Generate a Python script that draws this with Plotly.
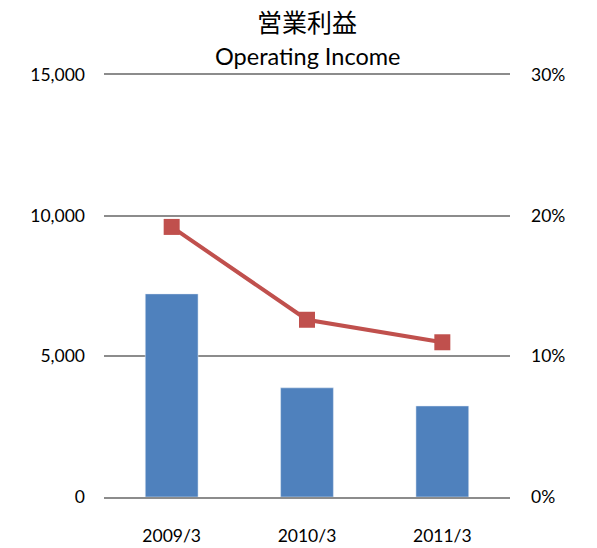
import plotly.graph_objects as go

years = ['2009/3', '2010/3', '2011/3']
income = [7220, 3880, 3235]
margin_pct = [19.2, 12.6, 11.0]
left_ticks = [0, 5000, 10000, 15000]
right_ticks = [0, 10, 20, 30]

fig = go.Figure()
fig.add_trace(go.Bar(x=years, y=income, marker_color='#4F81BD', showlegend=False))
fig.add_trace(go.Scatter(x=years, y=margin_pct, yaxis='y2', mode='lines+markers',
                         line=dict(color='#C0504D', width=4),
                         marker=dict(symbol='square', size=16, color='#C0504D'),
                         cliponaxis=False, showlegend=False))

fnt = dict(family='Lato, Open Sans, sans-serif', size=17.5, color='#000000')
fig.update_layout(
    width=597, height=548,
    margin=dict(l=104, r=87, t=75, b=51),
    plot_bgcolor='white', paper_bgcolor='white',
    bargap=0.61, font=fnt,
    xaxis=dict(showgrid=False, showline=True, mirror=True, linecolor='#8C8C8C',
               linewidth=1.5, ticks='', ticklabelstandoff=22, automargin=False),
    yaxis=dict(range=[0, 15000], tickvals=left_ticks,
               ticktext=[f'{v:,}' for v in left_ticks],
               gridcolor='#8C8C8C', gridwidth=1.5, zeroline=False, showline=False,
               ticklabelstandoff=18, automargin=False),
    yaxis2=dict(range=[0, 30], tickvals=right_ticks,
                ticktext=[f'{v}%' for v in right_ticks],
                overlaying='y', side='right', showgrid=False, zeroline=False,
                ticklabelstandoff=20, automargin=False),
)
fig.add_annotation(text='営業利益', xref='paper', yref='paper', x=0.5, y=1.0, yshift=54,
                   yanchor='middle', showarrow=False, borderpad=0,
                   font=dict(family='Noto Sans CJK JP', size=25, color='#000000'))
fig.add_annotation(text='Operating Income', xref='paper', yref='paper', x=0.5, y=1.0, yshift=19,
                   yanchor='middle', showarrow=False,
                   font=dict(family='Lato, Open Sans, sans-serif', size=23.5, color='#000000'))
# drop the default body margin so the figure sits at the page corner
fig.write_html('out.html', config={'displayModeBar': False},
               post_script="document.body.style.margin='0';")
